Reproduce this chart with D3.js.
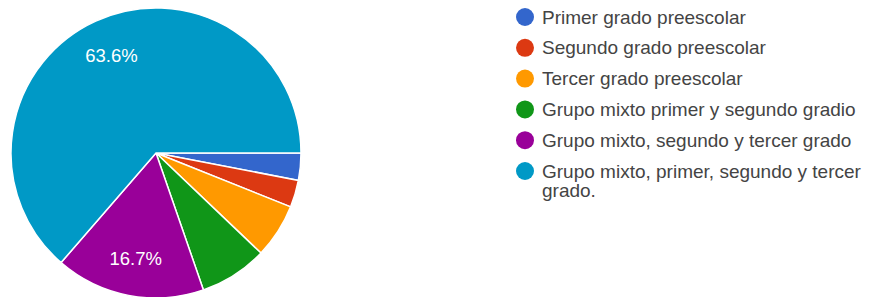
<!DOCTYPE html>
<html>
<head>
<meta charset="utf-8">
<script src="https://cdn.jsdelivr.net/npm/d3@7"></script>
<style>
  body { margin: 0; background: #fff; }
  svg { display: block; font-family: "Liberation Sans", Arial, sans-serif; }
</style>
</head>
<body>
<div id="chart"></div>
<script>
// categories and response counts
var categories = [
  "Primer grado preescolar",
  "Segundo grado preescolar",
  "Tercer grado preescolar",
  "Grupo mixto primer y segundo gradio",
  "Grupo mixto, segundo y tercer grado",
  "Grupo mixto, primer, segundo y tercer grado."
];
var counts = [2, 2, 4, 5, 11, 42];
var colors = ["#3366cc", "#dc3912", "#ff9900", "#109618", "#990099", "#0099c6"];

var width = 871, height = 297;
var cx = 156, cy = 153, radius = 145;

var svg = d3.select("#chart")
  .append("svg")
  .attr("width", width)
  .attr("height", height);

var data = categories.map(function (c, i) {
  return { name: c, value: counts[i], color: colors[i] };
});
var total = d3.sum(counts);

var pie = d3.pie()
  .sort(null)
  .value(function (d) { return d.value; })
  .startAngle(Math.PI / 2)
  .endAngle(Math.PI / 2 + 2 * Math.PI);

var arc = d3.arc().innerRadius(0).outerRadius(radius);
var labelArc = d3.arc().innerRadius(radius * 0.74).outerRadius(radius * 0.74);

var g = svg.append("g")
  .attr("transform", "translate(" + cx + "," + cy + ")");

var slices = g.selectAll(".slice")
  .data(pie(data))
  .enter()
  .append("g")
  .attr("class", "slice");

slices.append("path")
  .attr("d", arc)
  .attr("fill", function (d) { return d.data.color; })
  .attr("stroke", "#fff")
  .attr("stroke-width", 1.5);

// only big slices get a percent label
slices.filter(function (d) { return d.data.value / total > 0.1; })
  .append("text")
  .attr("transform", function (d) {
    return "translate(" + labelArc.centroid(d) + ")";
  })
  .attr("text-anchor", "middle")
  .attr("dy", "0.35em")
  .attr("fill", "#fff")
  .style("font-size", "18.5px")
  .text(function (d) {
    return (d.data.value / total * 100).toFixed(1) + "%";
  });

// legend
var legend = svg.append("g").attr("transform", "translate(525,17)");
var rowH = 30.8, lineH = 26, maxW = 330;
var yPos = 0;

data.forEach(function (d) {
  var row = legend.append("g").attr("transform", "translate(0," + yPos + ")");
  row.append("circle").attr("r", 9).attr("fill", d.color);
  var text = row.append("text")
    .attr("x", 17)
    .attr("dy", "0.35em")
    .attr("fill", "#444")
    .style("font-size", "19px");
  // wrap long labels
  var words = d.name.split(" ");
  var line = [], lines = 0;
  var tspan = text.append("tspan").attr("x", 17).attr("y", 0);
  words.forEach(function (w) {
    line.push(w);
    tspan.text(line.join(" "));
    if (tspan.node().getComputedTextLength() > maxW && line.length > 1) {
      line.pop();
      tspan.text(line.join(" "));
      line = [w];
      lines++;
      tspan = text.append("tspan").attr("x", 17).attr("y", lines * lineH).text(w);
    }
  });
  yPos += rowH + lines * lineH;
});
</script>
</body>
</html>
